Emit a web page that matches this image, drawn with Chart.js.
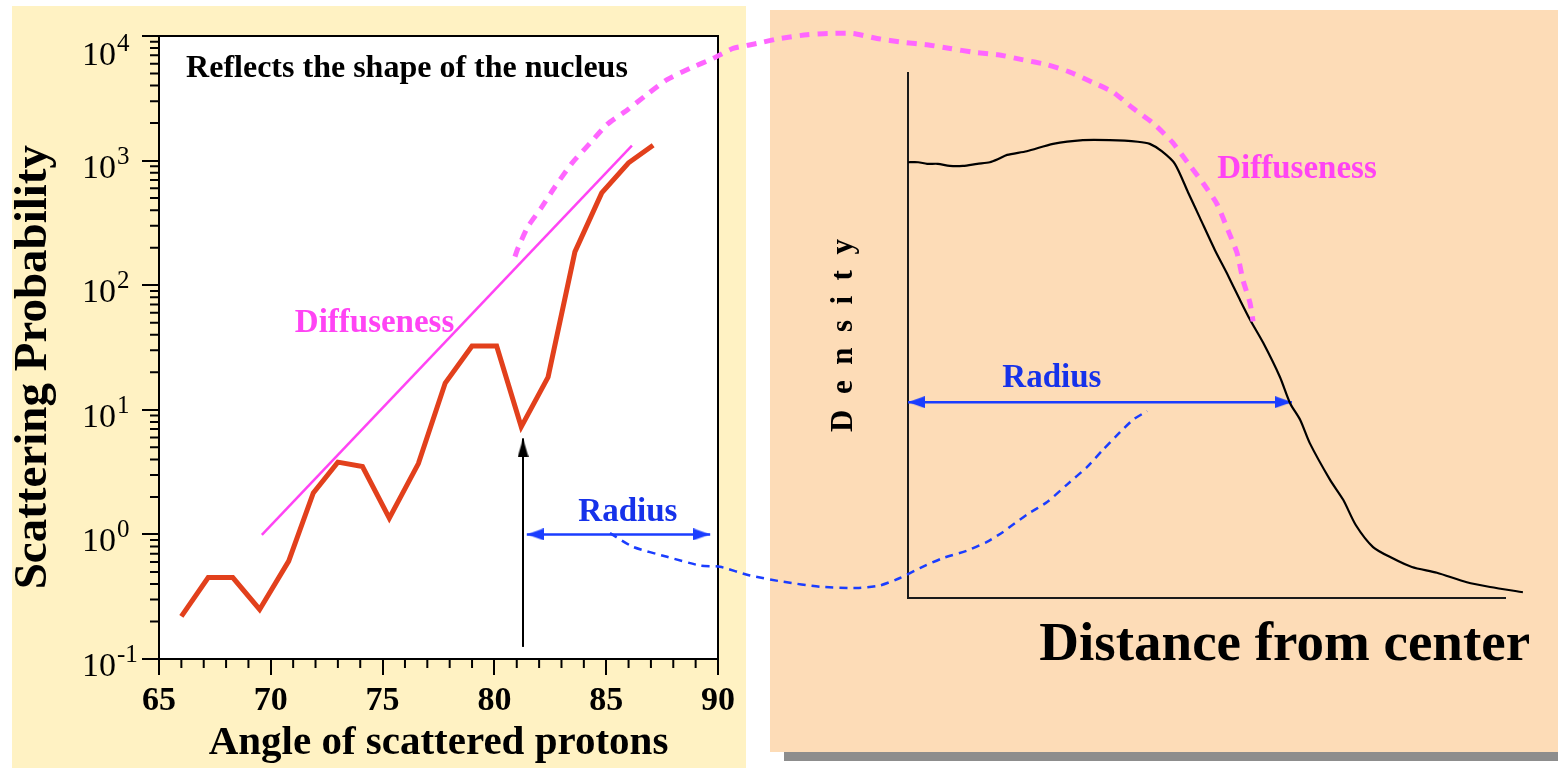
<!DOCTYPE html>
<html>
<head>
<meta charset="utf-8">
<script src="https://cdn.jsdelivr.net/npm/chart.js@4.4.1/dist/chart.umd.min.js"></script>
<style>
  html, body { margin: 0; padding: 0; background: #fff; overflow: hidden; }
  body { width: 1558px; height: 768px; position: relative; }
  #leftPanel { position: absolute; left: 12px; top: 6px; width: 734px; height: 762px; background: #fff2c3; }
  #rightPanel { position: absolute; left: 770px; top: 10px; width: 788px; height: 742px; background: #fddcb7; box-shadow: 14px 9px 0 #8d8d8d; }
  canvas { position: absolute; left: 0; top: 0; }
</style>
</head>
<body>
<div id="leftPanel"></div>
<div id="rightPanel"></div>
<canvas id="scatterChart" width="1558" height="768"></canvas>
<canvas id="densityChart" width="1558" height="768"></canvas>
<canvas id="linkChart" width="1558" height="768"></canvas>
<script>
// ===== DATA — SCATTERING (left) =====
const angles = [66.0, 67.2, 68.3, 69.5, 70.8, 71.9, 73.0, 74.1, 75.3, 76.6, 77.8, 79.0, 80.1, 81.2, 82.4, 83.6, 84.8, 86.0, 87.1];
const probability = [0.22, 0.45, 0.45, 0.25, 0.61, 2.15, 3.8, 3.5, 1.35, 3.7, 16.4, 32.5, 32.5, 7.3, 18.3, 185, 550, 960, 1330];

const fitAngles = [69.6, 86.15];
const fitProbability = [0.99, 1320];

const minimumAngle = 81.28;
const minimumArrow = [0.125, 5.9];

const radiusAngles = [81.45, 89.65];
const radiusProbability = 1.0;

const decadeExponents = [-1, 0, 1, 2, 3, 4];

// ===== DATA — DENSITY (right) =====
const distance = [0, 0.17, 0.32, 0.50, 0.70, 0.92, 1.16, 1.37, 1.51, 1.66, 1.99, 2.43, 2.93, 3.38, 3.85, 4.05, 4.25, 4.47, 4.69, 4.89, 5.14, 5.34, 5.56, 5.73, 5.95, 6.23, 6.40, 6.57, 6.73, 7.07, 7.29, 7.50, 7.79, 8.11, 8.44, 8.86, 9.36, 9.75, 10.30];
const density = [0.830, 0.830, 0.827, 0.827, 0.823, 0.823, 0.827, 0.830, 0.836, 0.844, 0.851, 0.865, 0.872, 0.872, 0.869, 0.865, 0.851, 0.827, 0.773, 0.724, 0.663, 0.619, 0.568, 0.530, 0.486, 0.421, 0.371, 0.339, 0.295, 0.225, 0.187, 0.139, 0.097, 0.076, 0.059, 0.048, 0.030, 0.021, 0.011];

const radiusDistance = [0, 6.43];
const radiusDensity = 0.373;

// ===== DATA — LINKS (angle, log10 probability, continued past the plot) =====
const diffuseLinkAngle = [80.92, 81.06, 81.50, 82.13, 82.71, 83.47, 84.28, 85.04, 85.97, 86.82, 87.72, 88.75, 89.78, 90.67, 91.74, 92.77, 93.98, 94.92, 96.04, 97.11, 98.27, 99.35, 100.38, 101.40, 102.52, 103.60, 104.72, 105.74, 106.73, 107.67, 108.56, 109.46, 110.31, 111.02, 111.69, 112.32, 112.81, 113.21, 113.48, 113.79, 113.93];
const diffuseLinkDecade = [2.23, 2.30, 2.47, 2.63, 2.79, 2.98, 3.14, 3.29, 3.41, 3.53, 3.65, 3.74, 3.82, 3.90, 3.94, 3.98, 4.01, 4.02, 4.02, 3.98, 3.95, 3.93, 3.90, 3.87, 3.85, 3.81, 3.77, 3.71, 3.63, 3.55, 3.42, 3.30, 3.15, 2.98, 2.82, 2.65, 2.44, 2.26, 2.04, 1.86, 1.71];

const radiusLinkAngle = [85.17, 86.20, 87.72, 89.20, 90.09, 91.43, 92.91, 94.56, 96.22, 97.24, 98.14, 99.03, 100.06, 101.14, 102.03, 102.75, 103.82, 104.72, 105.61, 106.50, 107.22, 107.98, 108.56, 109.19];
const radiusLinkDecade = [0.01, -0.10, -0.18, -0.25, -0.26, -0.33, -0.38, -0.42, -0.43, -0.41, -0.35, -0.27, -0.19, -0.13, -0.06, 0.02, 0.16, 0.26, 0.40, 0.54, 0.68, 0.82, 0.92, 0.99];

// ===== STYLE =====
const FONT = "'Liberation Serif', 'Times New Roman', serif";
const RED = '#e2401c';
const MAGENTA = '#ff44f4';
const MAGENTA_DASH = '#ff66ff';
const BLUE = '#1a3dff';
const BLUE_TEXT = '#1632ea';

Chart.defaults.font.family = FONT;

function arrowHead(color, width, length) {
  // tip sits in the middle of the image, so the point is the tip
  const c = document.createElement('canvas');
  c.width = width;
  c.height = length * 2;
  const g = c.getContext('2d');
  g.fillStyle = color;
  g.beginPath();
  g.moveTo(width / 2, length);
  g.lineTo(width, length * 2);
  g.lineTo(0, length * 2);
  g.closePath();
  g.fill();
  return c;
}

const blackHead = arrowHead('#000', 11, 19);
const blueHead = arrowHead(BLUE, 12, 17);

function xy(xs, ys) {
  return xs.map((v, i) => ({ x: v, y: Array.isArray(ys) ? ys[i] : ys }));
}

//
// ===== PLUGINS =====
//

function makeNotes(items) {
  return {
    id: 'notes',
    afterDatasetsDraw(chart) {
      const { ctx, scales: { x, y } } = chart;
      items.forEach(n => {
        ctx.save();
        ctx.translate(x.getPixelForValue(n.x), y.getPixelForValue(n.y));
        if (n.rotate) ctx.rotate(n.rotate * Math.PI / 180);
        ctx.font = `bold ${n.size}px ${FONT}`;
        ctx.fillStyle = n.color;
        ctx.textAlign = n.align || 'center';
        ctx.textBaseline = 'alphabetic';
        ctx.fillText(n.text, 0, 0);
        ctx.restore();
      });
    }
  };
}

const plotFrame = {
  id: 'plotFrame',
  beforeDraw(chart) {
    const { ctx, chartArea: a } = chart;
    ctx.save();
    ctx.fillStyle = '#fff';
    ctx.fillRect(a.left, a.top, a.width, a.height);
    ctx.strokeStyle = '#000';
    ctx.lineWidth = 2;
    ctx.strokeRect(a.left, a.top, a.width, a.height);
    ctx.restore();
  }
};

const minorTicks = {
  id: 'minorTicks',
  afterDraw(chart) {
    const { ctx, chartArea: a, scales: { x, y } } = chart;
    const len = 9;
    ctx.save();
    ctx.strokeStyle = '#000';
    ctx.lineWidth = 2;
    ctx.beginPath();
    for (let v = 66; v < 90; v++) {
      if (v % 5 === 0) continue;
      const px = x.getPixelForValue(v);
      ctx.moveTo(px, a.bottom);
      ctx.lineTo(px, a.bottom + len);
    }
    for (let e = -1; e < 4; e++) {
      for (let m = 2; m <= 9; m++) {
        const py = y.getPixelForValue(m * Math.pow(10, e));
        ctx.moveTo(a.left, py);
        ctx.lineTo(a.left - len, py);
      }
    }
    ctx.stroke();
    ctx.restore();
  }
};

const powerLabels = {
  id: 'powerLabels',
  afterDraw(chart) {
    const { ctx, scales: { y } } = chart;
    const left = 82;
    ctx.save();
    ctx.fillStyle = '#000';
    ctx.textAlign = 'left';
    ctx.textBaseline = 'alphabetic';
    decadeExponents.forEach(e => {
      const py = y.getPixelForValue(Math.pow(10, e));
      const base = Math.max(py + 17, 65);
      ctx.font = `34px ${FONT}`;
      ctx.fillText('10', left, base);
      const w = ctx.measureText('10').width;
      ctx.font = `25px ${FONT}`;
      ctx.fillText(String(e), left + w + 1, base - 14);
    });
    ctx.restore();
  }
};

//
// ===== LEFT — SCATTERING PROBABILITY =====
//

new Chart(document.getElementById('scatterChart'), {
  type: 'line',
  data: {
    datasets: [
      {
        data: xy(angles, probability),
        borderColor: RED,
        borderWidth: 5,
        pointRadius: 0
      },
      {
        data: xy(fitAngles, fitProbability),
        borderColor: MAGENTA,
        borderWidth: 2.5,
        pointRadius: 0
      },
      {
        data: xy([minimumAngle, minimumAngle], minimumArrow),
        borderColor: '#000',
        borderWidth: 2,
        pointRadius: [0, 6],
        pointStyle: ['circle', blackHead]
      },
      {
        data: xy(radiusAngles, radiusProbability),
        borderColor: BLUE,
        borderWidth: 2.5,
        pointRadius: 6,
        pointStyle: [blueHead, blueHead],
        pointRotation: [-90, 90]
      }
    ]
  },
  options: {
    responsive: false,
    animation: false,
    events: [],
    layout: { padding: { left: 0, top: 36, right: 840, bottom: 0 } },
    plugins: { legend: { display: false }, tooltip: { enabled: false } },
    scales: {
      x: {
        type: 'linear',
        min: 65,
        max: 90,
        ticks: {
          stepSize: 5,
          color: '#000',
          padding: 6,
          maxRotation: 0,
          font: { size: 34, weight: 'bold' }
        },
        grid: { drawOnChartArea: false, tickLength: 16, color: '#000', lineWidth: 2 },
        border: { color: '#000', width: 2 },
        title: {
          display: true,
          text: 'Angle of scattered protons',
          color: '#000',
          padding: 0,
          font: { size: 41, weight: 'bold' }
        },
        afterFit: s => { s.height = 109; }
      },
      y: {
        type: 'logarithmic',
        min: 0.1,
        max: 10000,
        afterBuildTicks: s => {
          s.ticks = decadeExponents.map(e => ({ value: Math.pow(10, e) }));
        },
        ticks: { display: false },
        grid: { drawOnChartArea: false, tickLength: 17, color: '#000', lineWidth: 2 },
        border: { color: '#000', width: 2 },
        afterFit: s => { s.width = 159; }
      }
    }
  },
  plugins: [
    plotFrame,
    minorTicks,
    powerLabels,
    makeNotes([
      { text: 'Reflects the shape of the nucleus', x: 76.09, y: 4690, size: 32, color: '#000' },
      { text: 'Diffuseness', x: 74.64, y: 42.1, size: 33, color: MAGENTA },
      { text: 'Radius', x: 85.97, y: 1.28, size: 33, color: BLUE_TEXT },
      { text: 'Scattering Probability', x: 59.95, y: 22.0, size: 47, color: '#000', rotate: -90 }
    ])
  ]
});

//
// ===== RIGHT — DENSITY PROFILE =====
//

new Chart(document.getElementById('densityChart'), {
  type: 'line',
  data: {
    datasets: [
      {
        data: xy(distance, density),
        borderColor: '#000',
        borderWidth: 2.2,
        pointRadius: 0,
        tension: 0.25,
        clip: false
      },
      {
        data: xy(radiusDistance, radiusDensity),
        borderColor: BLUE,
        borderWidth: 2.5,
        pointRadius: 6,
        pointStyle: [blueHead, blueHead],
        pointRotation: [-90, 90],
        clip: false
      }
    ]
  },
  options: {
    responsive: false,
    animation: false,
    events: [],
    layout: { padding: { left: 825, top: 73, right: 53, bottom: 0 } },
    plugins: { legend: { display: false }, tooltip: { enabled: false } },
    scales: {
      x: {
        type: 'linear',
        min: 0,
        max: 10,
        ticks: { display: false },
        grid: { display: false },
        border: { color: '#1a1a1a', width: 2 },
        afterFit: s => { s.height = 170; }
      },
      y: {
        type: 'linear',
        min: 0,
        max: 1,
        ticks: { display: false },
        grid: { display: false },
        border: { color: '#1a1a1a', width: 2 },
        title: {
          display: true,
          text: 'D  e  n  s  i  t  y',
          color: '#000',
          padding: 0,
          font: { size: 31, weight: 'bold' }
        },
        afterFit: s => { s.width = 83; }
      }
    }
  },
  plugins: [
    makeNotes([
      { text: 'Radius', x: 2.41, y: 0.402, size: 33, color: BLUE_TEXT },
      { text: 'Diffuseness', x: 5.18, y: 0.800, size: 33, color: MAGENTA, align: 'left' },
      { text: 'Distance from center', x: 10.42, y: -0.118, size: 55, color: '#000', align: 'right' }
    ])
  ]
});

//
// ===== LINKS — dashed curves between both panels =====
//

new Chart(document.getElementById('linkChart'), {
  type: 'line',
  data: {
    datasets: [
      {
        data: xy(diffuseLinkAngle, diffuseLinkDecade),
        borderColor: MAGENTA_DASH,
        borderWidth: 5,
        borderDash: [10, 8],
        pointRadius: 0,
        tension: 0.2,
        clip: false
      },
      {
        data: xy(radiusLinkAngle, radiusLinkDecade),
        borderColor: BLUE,
        borderWidth: 2.5,
        borderDash: [8, 6],
        pointRadius: 0,
        tension: 0.2,
        clip: false
      }
    ]
  },
  options: {
    responsive: false,
    animation: false,
    events: [],
    layout: { padding: { left: 159, top: 36, right: 57.4, bottom: 109 } },
    plugins: { legend: { display: false }, tooltip: { enabled: false } },
    scales: {
      x: { type: 'linear', min: 65, max: 125, display: false },
      y: { type: 'linear', min: -1, max: 4, display: false }
    }
  }
});
</script>
</body>
</html>
